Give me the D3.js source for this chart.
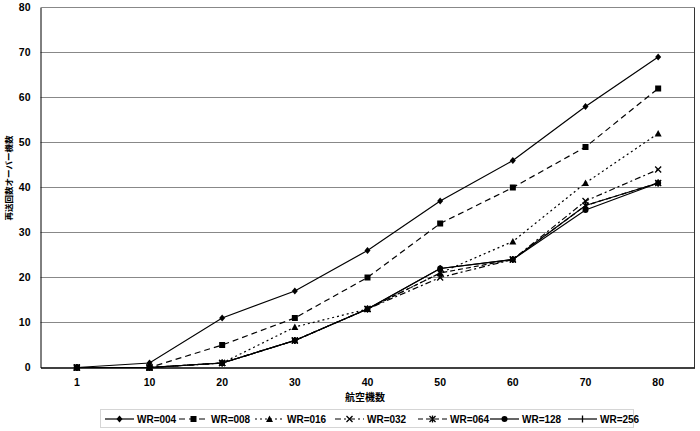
<!DOCTYPE html>
<html><head><meta charset="utf-8">
<script src="https://cdn.jsdelivr.net/npm/d3@7"></script>
<style>body{margin:0;background:#fff}svg{display:block}</style>
</head><body>
<svg id="c" width="700" height="431"></svg>
<script>
const categories = ["1","10","20","30","40","50","60","70","80"];
const seriesNames = ["WR=004","WR=008","WR=016","WR=032","WR=064","WR=128","WR=256"];
const wr004 = [0,1,11,17,26,37,46,58,69];
const wr008 = [0,0,5,11,20,32,40,49,62];
const wr016 = [0,0,1,9,13,21,28,41,52];
const wr032 = [0,0,1,6,13,20,24,37,44];
const wr064 = [0,0,1,6,13,21,24,36,41];
const wr128 = [0,0,1,6,13,22,24,35,41];
const wr256 = [0,0,1,6,13,22,24,36,41];
const yTicks = [0,10,20,30,40,50,60,70,80];
const xTitle = "航空機数";
const yTitle = "再送回数オーバー機数";

const seriesValues = [wr004,wr008,wr016,wr032,wr064,wr128,wr256];
const dashes = [null,"6,4","2,3","6,3,2,3","5,3",null,null];
const markers = ["diamond","square","triangle","x","asterisk","circle","bar"];

const svg = d3.select("#c");
const L=40.5, R=694.5, T=7.5, B=367.5;
const x = d3.scaleBand().domain(categories).range([L,R]);
const y = d3.scaleLinear().domain([0,80]).range([B,T]);
const font = "'Liberation Sans', Arial, sans-serif";

// gridlines
svg.append("g").selectAll("line").data(yTicks.filter(d=>d>0)).join("line")
  .attr("x1",L).attr("x2",R).attr("y1",d=>y(d)).attr("y2",d=>y(d))
  .attr("stroke","#888").attr("stroke-width",1);
// plot border
svg.append("line").attr("x1",R).attr("x2",R).attr("y1",T).attr("y2",B).attr("stroke","#333");

// axes
const yAxis = d3.axisLeft(y).tickValues(yTicks).tickSize(0).tickPadding(10);
const gy = svg.append("g").attr("transform",`translate(${L},0)`).call(yAxis);
gy.select(".domain").attr("stroke","#000");
gy.selectAll("text").attr("font-family",font).attr("font-size",10.5).attr("font-weight","bold").attr("fill","#000");
const xAxis = d3.axisBottom(x).tickSize(0).tickPadding(11);
const gx = svg.append("g").attr("transform",`translate(0,${B})`).call(xAxis);
gx.select(".domain").attr("stroke","#000").attr("stroke-width",1.3);
gx.selectAll("text").attr("font-family",font).attr("font-size",10.5).attr("font-weight","bold").attr("fill","#000");

svg.append("text").attr("x",365).attr("y",401).attr("text-anchor","middle")
  .attr("font-family","'Noto Sans CJK JP', sans-serif").attr("font-size",10).attr("font-weight","bold").text(xTitle);
svg.append("text").attr("transform","translate(12,178) rotate(-90)").attr("text-anchor","middle")
  .attr("font-family","'Noto Sans CJK JP', sans-serif").attr("font-size",8.5).attr("font-weight","bold").text(yTitle);

function drawMarker(g, type, cx, cy){
  const s=3;
  if(type==="diamond") g.append("path").attr("d",`M${cx},${cy-s-0.5}L${cx+s},${cy}L${cx},${cy+s+0.5}L${cx-s},${cy}Z`).attr("fill","#000");
  else if(type==="square") g.append("rect").attr("x",cx-3).attr("y",cy-3).attr("width",6).attr("height",6).attr("fill","#000");
  else if(type==="triangle") g.append("path").attr("d",`M${cx},${cy-3.5}L${cx+3.5},${cy+3}L${cx-3.5},${cy+3}Z`).attr("fill","#000");
  else if(type==="x") g.append("path").attr("d",`M${cx-3},${cy-3}L${cx+3},${cy+3}M${cx-3},${cy+3}L${cx+3},${cy-3}`).attr("stroke","#000").attr("stroke-width",1.3);
  else if(type==="asterisk") g.append("path").attr("d",`M${cx-3},${cy-3}L${cx+3},${cy+3}M${cx-3},${cy+3}L${cx+3},${cy-3}M${cx},${cy-3.5}L${cx},${cy+3.5}`).attr("stroke","#000").attr("stroke-width",1.3);
  else if(type==="circle") g.append("circle").attr("cx",cx).attr("cy",cy).attr("r",3).attr("fill","#000");
  else if(type==="bar") g.append("path").attr("d",`M${cx},${cy-3.5}L${cx},${cy+3.5}`).attr("stroke","#000").attr("stroke-width",1.3);
}

const line = d3.line().x((d,i)=>x(categories[i])+x.bandwidth()/2).y(d=>y(d));
seriesValues.forEach((vals,si)=>{
  const g = svg.append("g");
  g.append("path").attr("d",line(vals)).attr("fill","none").attr("stroke","#000")
    .attr("stroke-width",1.2).attr("stroke-dasharray",dashes[si]);
  vals.forEach((v,i)=>drawMarker(g,markers[si],x(categories[i])+x.bandwidth()/2,y(v)));
});

// legend
const lg = svg.append("g");
lg.append("rect").attr("x",100.5).attr("y",409.5).attr("width",533).attr("height",18)
  .attr("fill","none").attr("stroke","#aaa").attr("stroke-dasharray","1,1");
const legX = [105,179,255,335,418,490,568];
seriesNames.forEach((n,i)=>{
  const g = lg.append("g");
  const x0 = legX[i], x1 = x0+29, cy=419;
  g.append("line").attr("x1",x0).attr("x2",x1).attr("y1",cy).attr("y2",cy).attr("stroke","#000")
    .attr("stroke-width",1.2).attr("stroke-dasharray",dashes[i]);
  drawMarker(g,markers[i],(x0+x1)/2,cy);
  g.append("text").attr("x",x1+3).attr("y",cy+3.8).attr("font-family",font).attr("font-size",10)
    .attr("font-weight","bold").text(n);
});
</script>
</body></html>
